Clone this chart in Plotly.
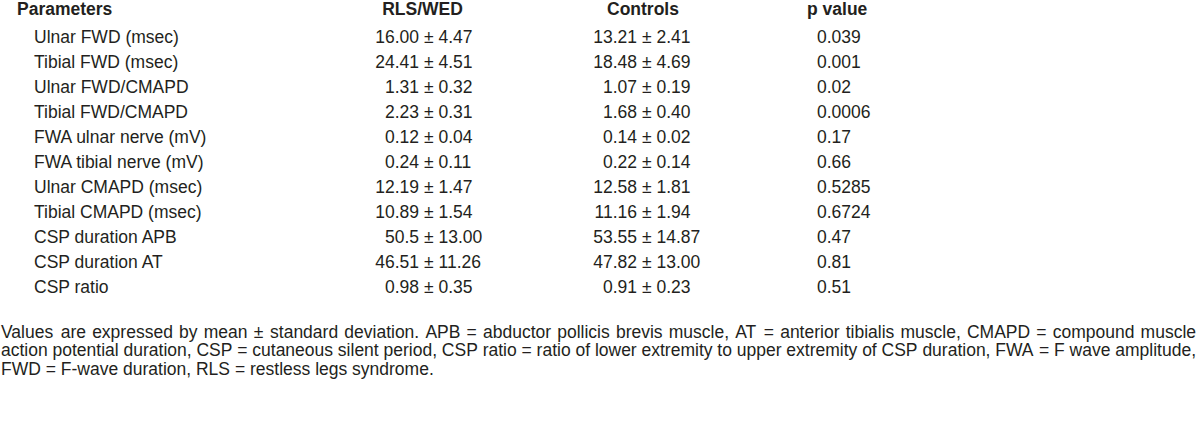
import plotly.graph_objects as go

headers = ["Parameters", "RLS/WED", "Controls", "p value"]
parameters = ["Ulnar FWD (msec)", "Tibial FWD (msec)", "Ulnar FWD/CMAPD", "Tibial FWD/CMAPD",
              "FWA ulnar nerve (mV)", "FWA tibial nerve (mV)", "Ulnar CMAPD (msec)",
              "Tibial CMAPD (msec)", "CSP duration APB", "CSP duration AT", "CSP ratio"]
rls_mean = ["16.00", "24.41", "1.31", "2.23", "0.12", "0.24", "12.19", "10.89", "50.5", "46.51", "0.98"]
rls_sd = ["4.47", "4.51", "0.32", "0.31", "0.04", "0.11", "1.47", "1.54", "13.00", "11.26", "0.35"]
ctl_mean = ["13.21", "18.48", "1.07", "1.68", "0.14", "0.22", "12.58", "11.16", "53.55", "47.82", "0.91"]
ctl_sd = ["2.41", "4.69", "0.19", "0.40", "0.02", "0.14", "1.81", "1.94", "14.87", "13.00", "0.23"]
p_values = ["0.039", "0.001", "0.02", "0.0006", "0.17", "0.66", "0.5285", "0.6724", "0.47", "0.81", "0.51"]
footnote = [
    "Values are expressed by mean ± standard deviation. APB = abductor pollicis brevis muscle, AT = anterior tibialis muscle, CMAPD = compound muscle",
    "action potential duration, CSP = cutaneous silent period, CSP ratio = ratio of lower extremity to upper extremity of CSP duration, FWA = F wave amplitude,",
    "FWD = F-wave duration, RLS = restless legs syndrome.",
]
justified = [True, True, False]

FONT = "Liberation Sans, Arial, sans-serif"
SIZE = 17.5
COLOR = "#231f20"

# Arial / Liberation Sans advance widths (per 1000 em) for justification
AW = {' ': 278, ',': 278, '.': 278, '-': 333, '=': 584, '±': 584, '(': 333, ')': 333, '/': 278}
AW.update({c: 556 for c in '0123456789'})
AW.update(dict(zip('ABCDEFGHIJKLMNOPQRSTUVWXYZ',
                   [667, 667, 722, 722, 667, 611, 778, 722, 278, 500, 667, 556, 833, 722, 778, 667,
                    778, 722, 667, 611, 722, 667, 944, 667, 667, 611])))
AW.update(dict(zip('abcdefghijklmnopqrstuvwxyz',
                   [556, 556, 500, 556, 556, 278, 556, 556, 222, 222, 500, 222, 833, 556, 556, 556,
                    556, 333, 500, 278, 556, 500, 722, 500, 500, 500])))


def width(s):
    return sum(AW.get(c, 556) for c in s) * SIZE / 1000.0


rows = list(range(len(parameters)))
fig = go.Figure()


def txt(x, y, t, pos, bold=False):
    fig.add_trace(go.Scatter(
        x=x, y=y, text=[f"<b>{s}</b>" if bold else s for s in t], mode="text",
        textposition=pos, textfont=dict(family=FONT, size=SIZE, color=COLOR),
        cliponaxis=False, hoverinfo="skip", showlegend=False))


HY = -1.12
# headers
txt([17], [HY], [headers[0]], "middle right", True)
txt([422.5, 643], [HY, HY], headers[1:3], "middle center", True)
txt([807], [HY], [headers[3]], "middle right", True)
# body
txt([419] * len(rows), rows, rls_mean, "middle left")
txt([34] * len(rows), rows, parameters, "middle right")
txt([424] * len(rows), rows, ["± " + s for s in rls_sd], "middle right")
txt([637] * len(rows), rows, ctl_mean, "middle left")
txt([642] * len(rows), rows, ["± " + s for s in ctl_sd], "middle right")
txt([817] * len(rows), rows, p_values, "middle right")

# footnote (first two lines justified between LEFT and RIGHT)
LEFT, RIGHT = 1, 1196
foot_y = [11.78, 12.52, 13.26]
wx, wy, wt = [], [], []
for line, yy, just in zip(footnote, foot_y, justified):
    words = line.split(" ")
    natural = sum(width(w) for w in words)
    gap = width(" ")
    if just and len(words) > 1:
        gap = (RIGHT - LEFT - natural) / (len(words) - 1)
    x = LEFT
    for w in words:
        wx.append(x)
        wy.append(yy)
        wt.append(w)
        x += width(w) + gap
txt(wx, wy, wt, "middle right")

fig.update_traces(marker=dict(size=0))
fig.update_layout(
    width=1200, height=442, margin=dict(l=0, r=0, t=0, b=0),
    paper_bgcolor="white", plot_bgcolor="white",
    xaxis=dict(range=[0, 1200], visible=False, fixedrange=True),
    yaxis=dict(range=[16.12, -1.56], visible=False, fixedrange=True),
)
fig.write_html("out.html", config={"displayModeBar": False, "staticPlot": True},
               post_script="document.body.style.margin='0';document.body.style.padding='0';")
